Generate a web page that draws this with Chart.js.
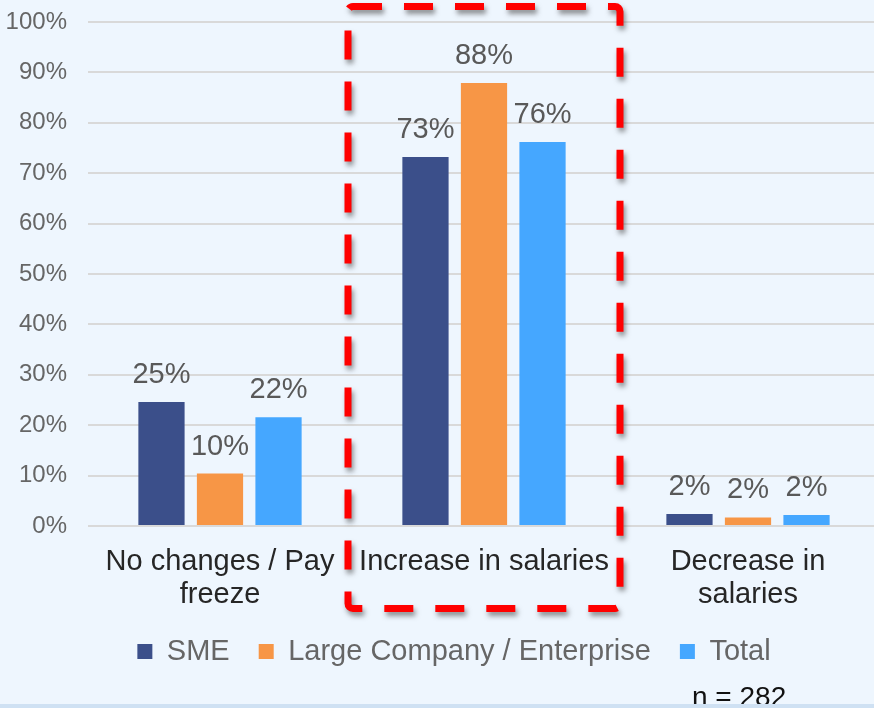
<!DOCTYPE html>
<html>
<head>
<meta charset="utf-8">
<script src="https://cdn.jsdelivr.net/npm/chart.js@4/dist/chart.umd.min.js"></script>
<style>
    html, body { margin: 0; padding: 0; overflow: hidden; background: #eef6fe; }
    #wrap { position: relative; width: 880px; height: 708px; }
    #note { position: absolute; left: 692px; top: 683px; font: 28px "Liberation Sans", Arial, sans-serif; line-height: 28px; color: #111; }
    #band { position: absolute; left: 0; bottom: 0; width: 880px; height: 4px; background: #cfe1f3; }
</style>
</head>
<body>
<div id="wrap">
    <canvas id="salaryChart" width="880" height="708"></canvas>
    <div id="note">n = 282</div>
    <div id="band"></div>
</div>
<script>
const categories = [["No changes / Pay", "freeze"], "Increase in salaries", ["Decrease in", "salaries"]];
const seriesNames = ["SME", "Large Company / Enterprise", "Total"];
const smeValues = [24.6, 73.2, 2.4];
const largeValues = [10.4, 87.9, 1.7];
const totalValues = [21.6, 76.2, 2.2];
const yTicks = [0, 10, 20, 30, 40, 50, 60, 70, 80, 90, 100];

const colors = ["#3b4f8a", "#f79646", "#45a7ff"];
const FONT = "'Liberation Sans', Arial, sans-serif";

// value labels above the bars
const barLabels = {
    id: "barLabels",
    afterDatasetsDraw(chart) {
        const ctx = chart.ctx;
        ctx.save();
        ctx.font = "29px " + FONT;
        ctx.fillStyle = "#595959";
        ctx.textAlign = "center";
        ctx.textBaseline = "alphabetic";
        chart.data.datasets.forEach((ds, i) => {
            chart.getDatasetMeta(i).data.forEach((bar, j) => {
                ctx.fillText(Math.round(ds.data[j]) + "%", bar.x, bar.y - 19);
            });
        });
        ctx.restore();
    }
};

// legend sits a little right of centre in the original
const legendShift = {
    id: "legendShift",
    afterLayout(chart) {
        chart.legend.left += 14;
        chart.legend.right += 14;
    }
};

// red dashed highlight round the middle category
const highlight = {
    id: "highlight",
    afterDraw(chart) {
        const ctx = chart.ctx;
        const x = chart.scales.x;
        const cx = x.getPixelForValue(1);
        const half = (x.getPixelForValue(1) - x.getPixelForValue(0)) / 2 + 4;
        const top = chart.chartArea.top - 15.5;
        const bottom = chart.chartArea.bottom + 82.5;
        ctx.save();
        ctx.strokeStyle = "#ff0000";
        ctx.lineWidth = 7;
        ctx.setLineDash([29, 22]);
        ctx.shadowColor = "rgba(60,60,60,0.55)";
        ctx.shadowBlur = 5;
        ctx.shadowOffsetX = 2;
        ctx.shadowOffsetY = 4;
        ctx.beginPath();
        ctx.roundRect(cx - half, top, half * 2, bottom - top, 5);
        ctx.stroke();
        ctx.restore();
    }
};

new Chart(document.getElementById("salaryChart"), {
    type: "bar",
    data: {
        labels: categories,
        datasets: [
            { label: seriesNames[0], data: smeValues, backgroundColor: colors[0] },
            { label: seriesNames[1], data: largeValues, backgroundColor: colors[1] },
            { label: seriesNames[2], data: totalValues, backgroundColor: colors[2] }
        ]
    },
    options: {
        responsive: false,
        animation: false,
        layout: { padding: { top: 22, bottom: 32, left: 0, right: 0 } },
        datasets: { bar: { categoryPercentage: 0.665, barPercentage: 0.79 } },
        scales: {
            x: {
                grid: { display: false, drawTicks: false },
                border: { display: false },
                ticks: {
                    color: "#262626",
                    font: { family: FONT, size: 29, lineHeight: 1.15 },
                    padding: 19,
                    maxRotation: 0,
                    autoSkip: false
                },
                afterFit: s => { s.height = 82; }
            },
            y: {
                min: 0,
                max: 100,
                afterBuildTicks: s => { s.ticks = yTicks.map(v => ({ value: v })); },
                grid: { color: "#d9d9d9", lineWidth: 2, drawTicks: false },
                border: { display: false },
                ticks: {
                    color: "#666666",
                    font: { family: FONT, size: 24 },
                    padding: 21,
                    callback: v => v + "%"
                },
                afterFit: s => {
                    s.width = 88;
                    s.paddingTop = 0;
                    s.paddingBottom = 0;
                }
            }
        },
        plugins: {
            legend: {
                position: "bottom",
                labels: {
                    boxWidth: 15,
                    boxHeight: 15,
                    padding: 29,
                    color: "#666666",
                    font: { family: FONT, size: 29 }
                }
            },
            tooltip: { enabled: false }
        }
    },
    plugins: [barLabels, legendShift, highlight]
});
</script>
</body>
</html>
